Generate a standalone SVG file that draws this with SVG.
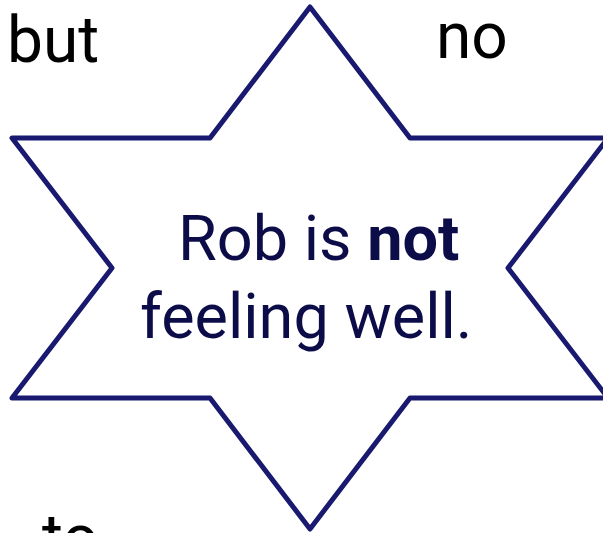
<svg xmlns="http://www.w3.org/2000/svg" width="603" height="533" viewBox="0 0 603 533">
<style>
.w{font-family:Roboto,"Liberation Sans",sans-serif;font-size:64px;fill:#000}
.m{font-family:Roboto,"Liberation Sans",sans-serif;font-size:63px;fill:#0c0c48}
</style>
<rect width="603" height="533" fill="#fff"/>
<g id="star">
<polygon points="310,7 410,138 608,138 508,268 608,398 410,398 310,529 210,398 12,398 112,268 12,138 210,138" fill="#fff" stroke="#191970" stroke-width="5" stroke-linejoin="round"/>
<text class="m" x="178" y="260">Rob is <tspan font-weight="bold">not</tspan></text>
<text class="m" x="140" y="338">feeling well.</text>
</g>
<g id="words">
<text class="w" x="7" y="62">but</text>
<text class="w" x="436" y="58">no</text>
<text class="w" x="42" y="560">to</text>
</g>
</svg>
